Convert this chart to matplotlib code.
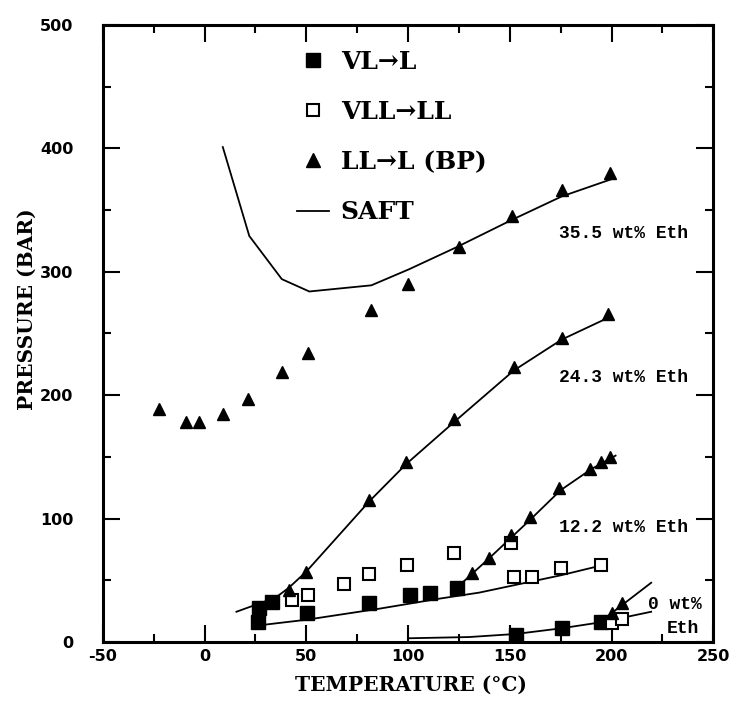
import numpy as np
import matplotlib
matplotlib.use("Agg")
import matplotlib.pyplot as plt
from matplotlib.lines import Line2D
from matplotlib.ticker import MultipleLocator

plt.rcParams["axes.unicode_minus"] = False

# VL -> L (filled squares)
vl_t = [26.5, 27, 33, 50.5, 81, 101, 111, 124, 153, 175.5, 195]
vl_p = [16, 27.5, 32, 23.5, 31.5, 38, 40, 44, 6, 11.5, 16]

# VLL -> LL (open squares)
vll_t = [43, 51, 68.5, 81, 99.5, 122.5, 150.5, 152, 161, 175, 195, 200, 205]
vll_p = [34, 38, 47, 55, 62.5, 72, 80.5, 53, 53, 60, 62.5, 15.5, 18.5]

# LL -> L bubble points (filled triangles)
bp_t = [-22.5, -9, -2.5, 9, 21.5, 38, 51, 82, 100, 125, 151, 175.5, 199.5,
        41.5, 50, 81, 99, 122.5, 152, 175.5, 198.5,
        131.5, 140, 150.5, 160, 174, 189.5, 195, 199.5,
        200, 205]
bp_p = [189, 178, 178, 184.5, 197, 219, 234, 269, 290, 320, 345, 366, 380,
        42, 57, 115, 145.5, 180.5, 223, 246, 266,
        56, 68, 87, 101, 125, 140, 145.5, 150,
        23.5, 31.5]

# SAFT curves
saft_355_t = [9, 22, 38, 51.5, 82, 100.5, 124, 151, 175.5, 200]
saft_355_p = [401, 329, 294, 284, 289, 302, 320, 342, 361, 375]
saft_243_t = [15.7, 35, 41.5, 50, 81, 99, 122.5, 152, 175.5, 200]
saft_243_p = [24.5, 36, 44, 57, 114, 144, 178, 220, 245, 264]
saft_122u_t = [124, 140, 160, 175, 190, 202]
saft_122u_p = [44, 68, 99, 123, 140, 151]
saft_122l_t = [29.5, 50, 86, 115, 135, 155, 175, 195]
saft_122l_p = [14, 18, 27, 35, 40, 47, 54, 62]
saft_0l_t = [100, 130, 153, 175, 195, 219.5]
saft_0l_p = [3, 4, 6.5, 11, 16, 24.5]
saft_0u_t = [195, 219.5]
saft_0u_p = [17, 48]

comp_labels = ["35.5 wt% Eth", "24.3 wt% Eth", "12.2 wt% Eth"]
comp_t = [206, 206, 206]
comp_p = [331, 214, 93]

x_ticks = [-50, 0, 50, 100, 150, 200, 250]
y_ticks = [0, 100, 200, 300, 400, 500]

mono = ["Liberation Mono", "DejaVu Sans Mono"]
serif = ["DejaVu Serif"]

fig = plt.figure(figsize=(7.5, 7.02), dpi=100)
ax = fig.add_axes([0.137, 0.0855, 0.814, 0.879])

for t, p in [(saft_355_t, saft_355_p), (saft_243_t, saft_243_p),
             (saft_122u_t, saft_122u_p), (saft_122l_t, saft_122l_p),
             (saft_0l_t, saft_0l_p), (saft_0u_t, saft_0u_p)]:
    ax.plot(t, p, "-", color="black", linewidth=1.3, zorder=2)

ax.plot(vl_t, vl_p, "s", color="black", markersize=9.5, linestyle="none", zorder=3)
ax.plot(vll_t, vll_p, "s", markerfacecolor="white", markeredgecolor="black",
        markeredgewidth=1.5, markersize=8.5, linestyle="none", zorder=3)
ax.plot(bp_t, bp_p, "^", color="black", markersize=9, linestyle="none", zorder=4)

for lab, t, p in zip(comp_labels, comp_t, comp_p):
    ax.text(t, p, lab, ha="center", va="center", fontsize=13, fontweight="bold", family=mono)
ax.text(218, 30, "0 wt%", ha="left", va="center", fontsize=13, fontweight="bold", family=mono)
ax.text(227, 11, "Eth", ha="left", va="center", fontsize=13, fontweight="bold", family=mono)

handles = [
    Line2D([], [], marker="s", color="black", linestyle="none", markersize=10),
    Line2D([], [], marker="s", markerfacecolor="white", markeredgecolor="black",
           markeredgewidth=1.5, linestyle="none", markersize=9),
    Line2D([], [], marker="^", color="black", linestyle="none", markersize=10),
    Line2D([], [], color="black", linewidth=1.3),
]
ax.legend(handles, ["VL\u2192L", "VLL\u2192LL", "LL\u2192L (BP)", "SAFT"],
          loc="upper left", bbox_to_anchor=(0.318, 0.96), frameon=False,
          borderpad=0, borderaxespad=0, handlelength=1.3, handletextpad=0.45,
          labelspacing=1.05, prop={"family": serif, "size": 18, "weight": "bold"})

ax.set_xlim(-50, 250)
ax.set_ylim(0, 500)
ax.set_xticks(x_ticks)
ax.set_yticks(y_ticks)
ax.xaxis.set_minor_locator(MultipleLocator(25))
ax.yaxis.set_minor_locator(MultipleLocator(50))
ax.tick_params(which="both", direction="in", top=True, right=True, width=1.5, color="black")
ax.tick_params(which="major", length=12)
ax.tick_params(which="minor", length=6)
ax.tick_params(axis="x", which="major", pad=5, labelsize=11.5)
ax.tick_params(axis="y", which="major", pad=21, labelsize=11.5)
for lbl in ax.get_xticklabels() + ax.get_yticklabels():
    lbl.set_fontweight("bold")
for sp in ax.spines.values():
    sp.set_linewidth(2.2)

ax.set_xlabel("TEMPERATURE (\u00b0C)", fontsize=14.5, fontweight="bold", family=serif)
ax.set_ylabel("PRESSURE (BAR)", fontsize=14.5, fontweight="bold", family=serif)
ax.xaxis.set_label_coords(0.505, -0.053)
ax.yaxis.set_label_coords(-0.108, 0.54)

fig.savefig("out.png", dpi=100)
